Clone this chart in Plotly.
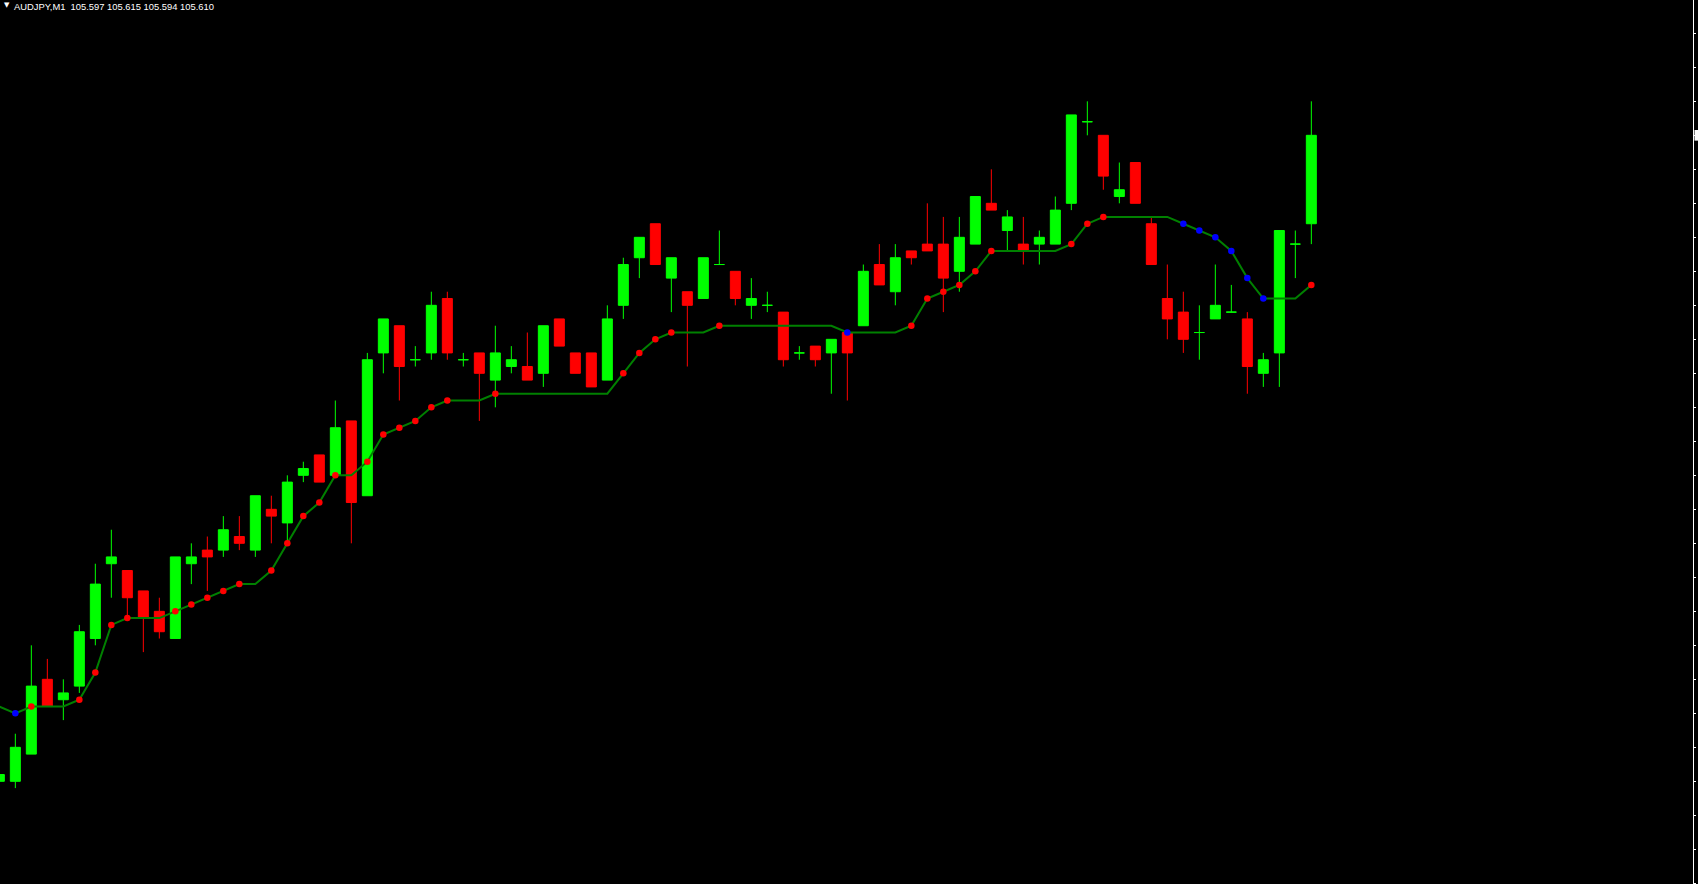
import plotly.graph_objects as go

# ---- data (AUDJPY, M1) ----
bar_index = list(range(83))

open_ = [105.515, 105.515, 105.519, 105.530, 105.527, 105.529, 105.536, 105.547, 105.546, 105.543,
         105.540, 105.536, 105.547, 105.549, 105.549, 105.551, 105.549, 105.555, 105.553, 105.560,
         105.563, 105.560, 105.568, 105.557, 105.578, 105.582, 105.577, 105.578, 105.586, 105.577,
         105.578, 105.574, 105.576, 105.576, 105.575, 105.583, 105.578, 105.578, 105.574, 105.585,
         105.592, 105.597, 105.589, 105.587, 105.586, 105.591, 105.590, 105.585, 105.585, 105.584,
         105.578, 105.579, 105.578, 105.581, 105.582, 105.591, 105.587, 105.593, 105.594, 105.594,
         105.590, 105.594, 105.600, 105.596, 105.594, 105.594, 105.594, 105.600, 105.612, 105.610,
         105.601, 105.606, 105.597, 105.586, 105.584, 105.581, 105.583, 105.584, 105.583, 105.575,
         105.578, 105.594, 105.597]

high = [105.516, 105.522, 105.535, 105.533, 105.530, 105.538, 105.547, 105.552, 105.546, 105.543,
        105.542, 105.548, 105.550, 105.551, 105.554, 105.554, 105.557, 105.557, 105.560, 105.562,
        105.563, 105.571, 105.568, 105.578, 105.583, 105.582, 105.579, 105.587, 105.587, 105.578,
        105.578, 105.582, 105.579, 105.581, 105.582, 105.583, 105.578, 105.578, 105.585, 105.592,
        105.595, 105.597, 105.592, 105.587, 105.592, 105.596, 105.590, 105.589, 105.587, 105.584,
        105.579, 105.579, 105.580, 105.581, 105.591, 105.594, 105.594, 105.593, 105.600, 105.598,
        105.598, 105.601, 105.605, 105.599, 105.598, 105.596, 105.601, 105.613, 105.615, 105.610,
        105.606, 105.606, 105.598, 105.591, 105.587, 105.585, 105.591, 105.588, 105.584, 105.578,
        105.596, 105.596, 105.615]

low = [105.515, 105.514, 105.519, 105.526, 105.524, 105.528, 105.535, 105.542, 105.539, 105.534,
       105.536, 105.536, 105.544, 105.543, 105.548, 105.549, 105.548, 105.550, 105.550, 105.559,
       105.559, 105.560, 105.550, 105.557, 105.575, 105.571, 105.576, 105.577, 105.577, 105.576,
       105.568, 105.570, 105.575, 105.574, 105.573, 105.579, 105.575, 105.573, 105.574, 105.583,
       105.589, 105.591, 105.584, 105.576, 105.586, 105.591, 105.585, 105.583, 105.584, 105.576,
       105.577, 105.576, 105.572, 105.571, 105.582, 105.588, 105.585, 105.591, 105.593, 105.584,
       105.587, 105.594, 105.599, 105.593, 105.591, 105.591, 105.594, 105.599, 105.610, 105.602,
       105.600, 105.600, 105.591, 105.580, 105.578, 105.577, 105.583, 105.584, 105.572, 105.573,
       105.573, 105.589, 105.594]

close = [105.516, 105.520, 105.529, 105.526, 105.528, 105.537, 105.544, 105.548, 105.542, 105.539,
         105.537, 105.548, 105.548, 105.548, 105.552, 105.550, 105.557, 105.554, 105.559, 105.561,
         105.559, 105.567, 105.556, 105.577, 105.583, 105.576, 105.577, 105.585, 105.578, 105.577,
         105.575, 105.578, 105.577, 105.574, 105.582, 105.579, 105.575, 105.573, 105.583, 105.591,
         105.595, 105.591, 105.592, 105.585, 105.592, 105.591, 105.586, 105.586, 105.585, 105.577,
         105.578, 105.577, 105.580, 105.578, 105.590, 105.588, 105.592, 105.592, 105.593, 105.589,
         105.595, 105.601, 105.599, 105.598, 105.593, 105.595, 105.599, 105.613, 105.612, 105.604,
         105.602, 105.600, 105.591, 105.583, 105.580, 105.581, 105.585, 105.584, 105.576, 105.577,
         105.596, 105.594, 105.610]

# trailing indicator line
indicator = [105.526, 105.525, 105.526, 105.526, 105.526, 105.527, 105.531, 105.538, 105.539, 105.539,
             105.539, 105.540, 105.541, 105.542, 105.543, 105.544, 105.544, 105.546, 105.550, 105.554,
             105.556, 105.560, 105.560, 105.562, 105.566, 105.567, 105.568, 105.570, 105.571, 105.571,
             105.571, 105.572, 105.572, 105.572, 105.572, 105.572, 105.572, 105.572, 105.572, 105.575,
             105.578, 105.580, 105.581, 105.581, 105.581, 105.582, 105.582, 105.582, 105.582, 105.582,
             105.582, 105.582, 105.582, 105.581, 105.581, 105.581, 105.581, 105.582, 105.586, 105.587,
             105.588, 105.590, 105.593, 105.593, 105.593, 105.593, 105.593, 105.594, 105.597, 105.598,
             105.598, 105.598, 105.598, 105.598, 105.597, 105.596, 105.595, 105.593, 105.589, 105.586,
             105.586, 105.586, 105.588]

# signal dot per bar: 'u' = up (red), 'd' = down (blue), '' = none
signal = ['', 'd', 'u', '', '', 'u', 'u', 'u', 'u', '',
          '', 'u', 'u', 'u', 'u', 'u', '', 'u', 'u', 'u',
          'u', 'u', '', 'u', 'u', 'u', 'u', 'u', 'u', '',
          '', 'u', '', '', '', '', '', '', '', 'u',
          'u', 'u', 'u', '', '', 'u', '', '', '', '',
          '', '', '', 'd', '', '', '', 'u', 'u', 'u',
          'u', 'u', 'u', '', '', '', '', 'u', 'u', 'u',
          '', '', '', '', 'd', 'd', 'd', 'd', 'd', 'd',
          '', '', 'u']

symbol_name = "AUDJPY,M1"
y_range = [105.4999, 105.6299]
tick_step = 0.005

BULL = "#00ff00"
BEAR = "#ff0000"
LINE = "#008000"
UPDOT = "#ff0000"
DNDOT = "#0000ff"

W, H = 1698, 884
ML, MR = 0, 5
plot_w = W - ML - MR
bar_px = 16.0
x0 = 0.0417

fig = go.Figure()

def candle_trace(idx, color):
    return go.Candlestick(
        x=[bar_index[i] for i in idx],
        open=[open_[i] for i in idx],
        high=[high[i] for i in idx],
        low=[low[i] for i in idx],
        close=[close[i] for i in idx],
        increasing=dict(line=dict(color=color, width=1), fillcolor=color),
        decreasing=dict(line=dict(color=color, width=1), fillcolor=color),
        whiskerwidth=0,
        showlegend=False,
        hoverinfo="skip",
    )

bull = [i for i in bar_index if close[i] >= open_[i]]
bear = [i for i in bar_index if close[i] < open_[i]]
fig.add_trace(candle_trace(bull, BULL))
fig.add_trace(candle_trace(bear, BEAR))

fig.add_trace(go.Scatter(x=bar_index, y=indicator, mode="lines",
                         line=dict(color=LINE, width=2), showlegend=False, hoverinfo="skip"))

for code, col in (("u", UPDOT), ("d", DNDOT)):
    xs = [bar_index[i] for i in bar_index if signal[i] == code]
    ys = [indicator[i] for i in bar_index if signal[i] == code]
    fig.add_trace(go.Scatter(x=xs, y=ys, mode="markers",
                             marker=dict(color=col, size=6.5, line=dict(width=0)),
                             showlegend=False, hoverinfo="skip"))

title_text = "%s\u00a0 %.3f %.3f %.3f %.3f" % (symbol_name, open_[-1], high[-1], low[-1], close[-1])

fig.update_layout(
    width=W, height=H,
    margin=dict(l=ML, r=MR, t=0, b=0, pad=0),
    paper_bgcolor="black", plot_bgcolor="black",
    boxmode="overlay", boxgap=0.375, boxgroupgap=0,
    showlegend=False,
    xaxis=dict(range=[x0, x0 + plot_w / bar_px], visible=False,
               rangeslider=dict(visible=False), fixedrange=True),
    yaxis=dict(side="right", range=y_range, showgrid=False, zeroline=False,
               showline=True, linecolor="white", linewidth=1,
               ticks="outside", ticklen=2, tickwidth=1, tickcolor="white",
               tick0=105.5, dtick=tick_step, showticklabels=False, fixedrange=True),
    annotations=[
        dict(text=title_text, xref="paper", yref="paper", x=11.5 / plot_w, y=1,
             xanchor="left", yanchor="top", showarrow=False, yshift=1,
             font=dict(family="Liberation Sans", size=9.4, color="white")),
        dict(text="\u25bc", xref="paper", yref="paper", x=1.5 / plot_w, y=1,
             xanchor="left", yanchor="top", showarrow=False, yshift=1,
             font=dict(family="DejaVu Sans", size=7, color="white")),
    ],
    shapes=[
        dict(type="rect", xref="paper", yref="y",
             x0=1 + 1.5 / plot_w, x1=1 + 8 / plot_w,
             y0=close[-1] - 0.00078, y1=close[-1] + 0.00078,
             fillcolor="white", line=dict(width=0), layer="above"),
    ],
)

fig.write_html("out.html", config={"displayModeBar": False},
               post_script="document.body.style.margin='0';document.body.style.overflow='hidden';")
